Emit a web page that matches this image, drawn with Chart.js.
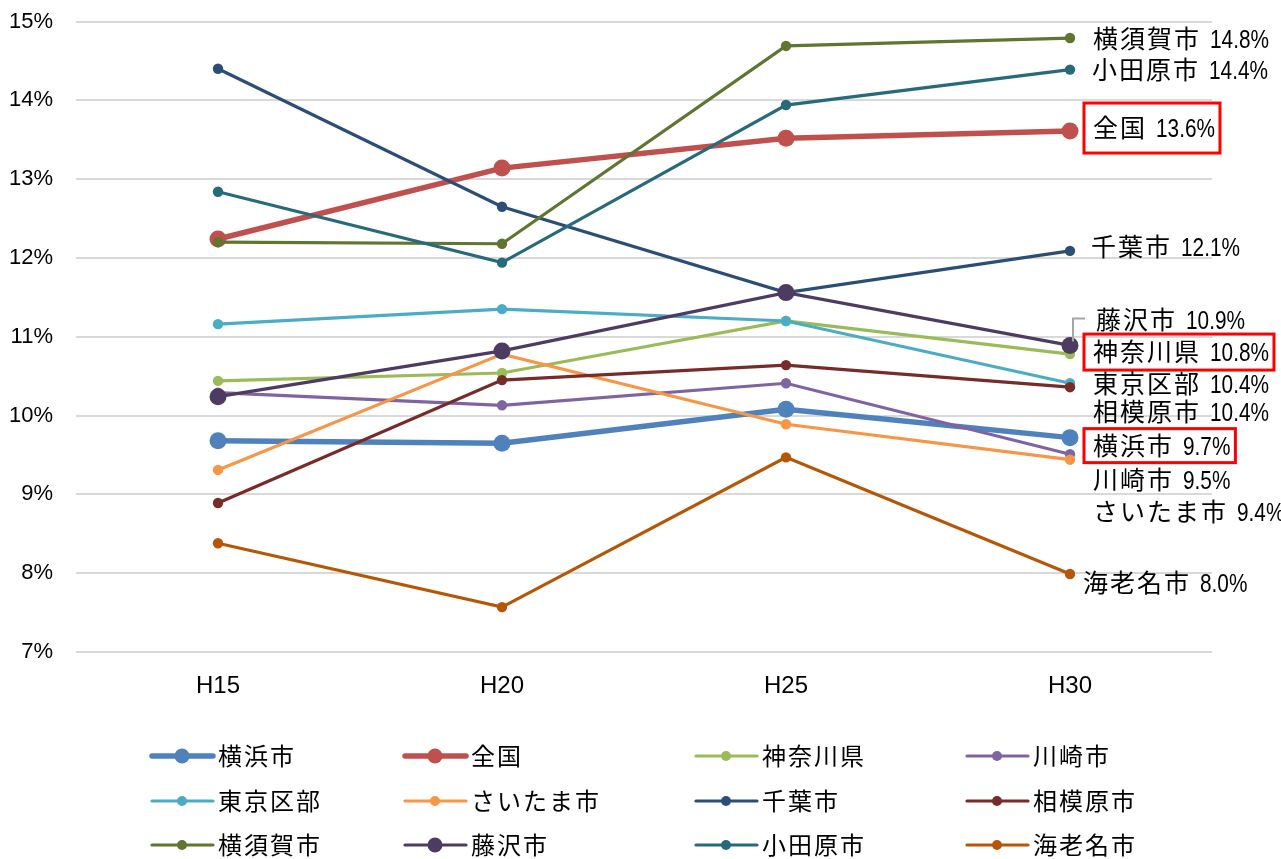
<!DOCTYPE html>
<html>
<head>
<meta charset="utf-8">
<script src="https://cdn.jsdelivr.net/npm/chart.js@4"></script>
<style>
  body { margin: 0; background: #fff; }
  canvas { display: block; }
</style>
</head>
<body>
<canvas id="chart" width="1281" height="859"></canvas>
<script>
// categories and series
const categories = ['H15', 'H20', 'H25', 'H30'];
const seriesNames = ['横浜市', '全国', '神奈川県', '川崎市', '東京区部', 'さいたま市', '千葉市', '相模原市', '横須賀市', '藤沢市', '小田原市', '海老名市'];

const yokohama = [9.68, 9.65, 10.08, 9.72];
const zenkoku = [12.24, 13.14, 13.52, 13.61];
const kanagawa = [10.44, 10.54, 11.20, 10.78];
const kawasaki = [10.29, 10.13, 10.41, 9.51];
const tokyo = [11.16, 11.35, 11.20, 10.41];
const saitama = [9.31, 10.78, 9.89, 9.44];
const chiba = [14.40, 12.65, 11.56, 12.09];
const sagamihara = [8.89, 10.45, 10.64, 10.36];
const yokosuka = [12.20, 12.18, 14.69, 14.79];
const fujisawa = [10.24, 10.82, 11.56, 10.89];
const odawara = [12.84, 11.94, 13.94, 14.39];
const ebina = [8.38, 7.57, 9.47, 7.99];

const yTicks = [7, 8, 9, 10, 11, 12, 13, 14, 15];

const allValues = [yokohama, zenkoku, kanagawa, kawasaki, tokyo, saitama, chiba, sagamihara, yokosuka, fujisawa, odawara, ebina];

// styling
const colors = ['#4F81BD', '#C0504D', '#9BBB59', '#8064A2', '#4BACC6', '#F79646', '#2C4D75', '#772C2A', '#5F7530', '#4D3B62', '#276A7C', '#B65708'];
const thick = [true, true, false, false, false, false, false, false, false, false, false, false];
const bigDot = [true, true, false, false, false, false, false, false, false, true, false, false];

const jpFont = '"Noto Sans CJK JP", sans-serif';
const numFont = '"Liberation Sans", Arial, sans-serif';

// end labels: vertical shift from the last point, and which get a red box
const endLabel = {
    dy: [8, -3, -2, 26, 1, 52, -4, 25, 1, -25, 0, 9],
    x: [1093, 1093, 1093, 1093, 1093, 1093, 1091, 1093, 1093, 1096, 1092, 1083],
    boxed: { 0: 17, 1: 25, 2: 18 }
};

const legendCols = [152, 405, 696, 967];
const legendRows = [756, 801, 845];

const datasets = seriesNames.map((name, i) => ({
    label: name,
    data: allValues[i],
    borderColor: colors[i],
    backgroundColor: colors[i],
    pointBackgroundColor: colors[i],
    pointBorderColor: colors[i],
    borderWidth: thick[i] ? 5.5 : 3.2,
    pointRadius: bigDot[i] ? 8.5 : 5.2,
    pointBorderWidth: 0,
    tension: 0,
    order: -i
}));

// narrow numerals: draw with a horizontal squeeze
function drawNarrow(ctx, text, x, y, squeeze) {
    ctx.save();
    ctx.translate(x, y);
    ctx.scale(squeeze, 1);
    ctx.fillText(text, 0, 0);
    ctx.restore();
    return ctx.measureText(text).width * squeeze;
}

function drawLabelText(ctx, x, cy, name, valueText) {
    const base = cy + 9;
    ctx.font = '25px ' + jpFont;
    ctx.letterSpacing = '2px';
    ctx.fillStyle = '#000';
    ctx.textAlign = 'left';
    ctx.textBaseline = 'alphabetic';
    ctx.fillText(name, x, base);
    const w1 = ctx.measureText(name).width;
    ctx.letterSpacing = '0px';
    ctx.font = '26px ' + numFont;
    const x2 = x + w1 + 9;
    const w2 = drawNarrow(ctx, valueText, x2, base, 0.8);
    return x2 + w2;
}

const endLabelPlugin = {
    id: 'endLabels',
    afterDatasetsDraw(chart) {
        const ctx = chart.ctx;
        ctx.save();
        chart.data.datasets.forEach((ds, i) => {
            const meta = chart.getDatasetMeta(i);
            const pt = meta.data[meta.data.length - 1];
            const cy = pt.y + endLabel.dy[i];
            const x = endLabel.x[i];
            const v = ds.data[ds.data.length - 1];
            const right = drawLabelText(ctx, x, cy, ds.label, v.toFixed(1) + '%');
            if (endLabel.boxed[i] !== undefined) {
                const h = endLabel.boxed[i];
                ctx.strokeStyle = '#FF0000';
                ctx.lineWidth = 3;
                ctx.strokeRect(x - 9, cy - h, right - x + 14, h * 2);
            }
            if (i === 9) {
                // leader line for 藤沢市
                ctx.strokeStyle = '#A6A6A6';
                ctx.lineWidth = 2;
                ctx.beginPath();
                ctx.moveTo(pt.x + 3, pt.y - 4);
                ctx.lineTo(pt.x + 3, cy - 2);
                ctx.lineTo(pt.x + 15, cy - 2);
                ctx.stroke();
            }
        });
        ctx.restore();
    }
};

const gridLegendPlugin = {
    id: 'gridLegend',
    afterDraw(chart) {
        const ctx = chart.ctx;
        ctx.save();
        chart.data.datasets.forEach((ds, i) => {
            const x0 = legendCols[i % 4];
            const y = legendRows[Math.floor(i / 4)];
            ctx.strokeStyle = ds.borderColor;
            ctx.lineWidth = ds.borderWidth;
            ctx.lineCap = 'round';
            ctx.beginPath();
            ctx.moveTo(x0, y);
            ctx.lineTo(x0 + 61, y);
            ctx.stroke();
            ctx.fillStyle = ds.borderColor;
            ctx.beginPath();
            ctx.arc(x0 + 30, y, bigDot[i] ? 7.5 : 5, 0, Math.PI * 2);
            ctx.fill();
            ctx.font = '24px ' + jpFont;
            ctx.letterSpacing = '2px';
            ctx.fillStyle = '#000';
            ctx.textAlign = 'left';
            ctx.textBaseline = 'alphabetic';
            ctx.fillText(ds.label, x0 + 66, y + 9);
        });
        ctx.restore();
    }
};

new Chart(document.getElementById('chart'), {
    type: 'line',
    data: {
        labels: categories,
        datasets: datasets
    },
    options: {
        responsive: false,
        animation: false,
        layout: {
            padding: { left: 0, right: 69, top: 21.5, bottom: 0 }
        },
        plugins: {
            legend: { display: false },
            tooltip: { enabled: false }
        },
        scales: {
            x: {
                offset: true,
                grid: { display: false, drawTicks: false },
                border: { display: false },
                ticks: {
                    color: '#000',
                    padding: 20,
                    font: { family: '"Liberation Sans", Arial, sans-serif', size: 24 }
                },
                afterFit(scale) {
                    scale.height = 859 - 652;
                    scale.paddingLeft = 0;
                    scale.paddingRight = 0;
                }
            },
            y: {
                min: 7,
                max: 15,
                afterBuildTicks(scale) { scale.ticks = yTicks.map(v => ({ value: v })); },
                grid: { color: '#D9D9D9', lineWidth: 2, drawTicks: false },
                border: { display: false },
                ticks: {
                    color: '#000',
                    padding: 23,
                    font: { family: numFont, size: 22 },
                    callback: function (value) {
                        return value + '%';
                    }
                },
                afterFit(scale) {
                    scale.width = 76;
                    scale.paddingTop = 0;
                    scale.paddingBottom = 0;
                }
            }
        }
    },
    plugins: [endLabelPlugin, gridLegendPlugin]
});
</script>
</body>
</html>
